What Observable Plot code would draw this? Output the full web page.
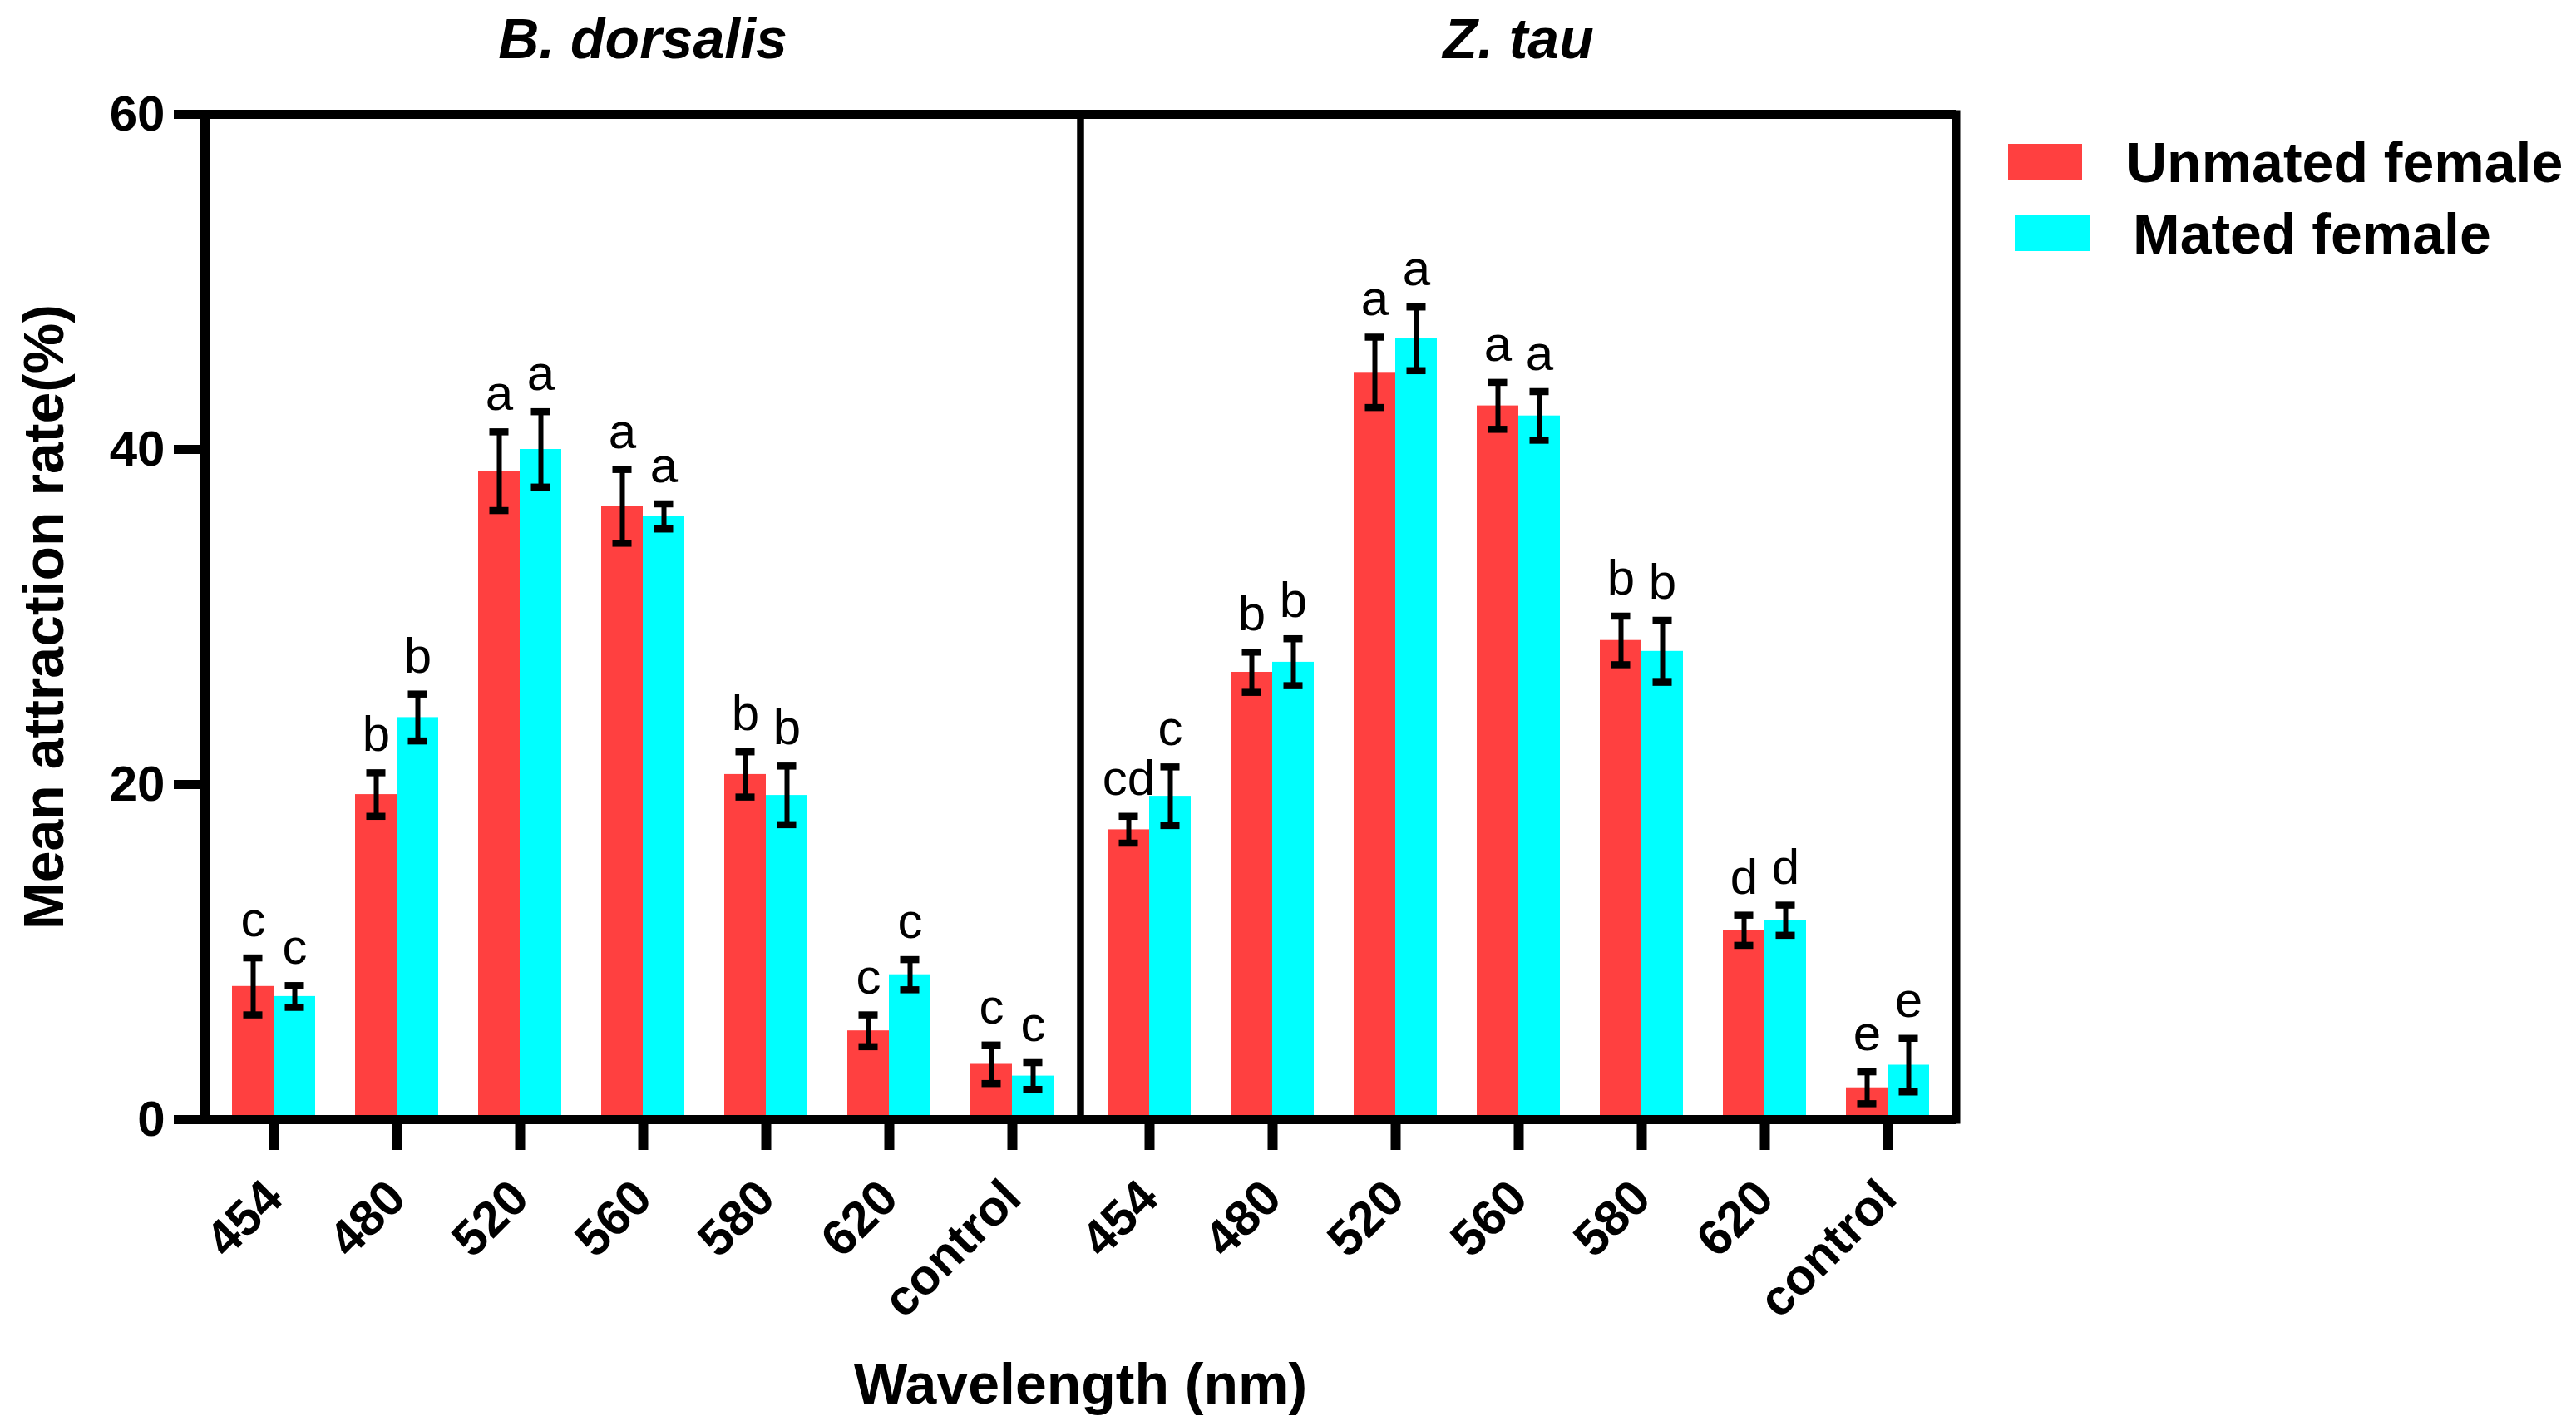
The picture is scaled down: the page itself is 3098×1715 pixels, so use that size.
<!DOCTYPE html>
<html>
<head>
<meta charset="utf-8">
<script src="https://cdn.jsdelivr.net/npm/d3@7"></script>
<script src="https://cdn.jsdelivr.net/npm/@observablehq/plot@0.6"></script>
<style>
  body { margin: 0; background: #fff; }
  #chart { position: relative; width: 3098px; height: 1715px; font-family: "Liberation Sans", Arial, sans-serif; color: #000; }
  .key { position: absolute; font-weight: bold; font-size: 68px; line-height: 68px; white-space: nowrap; }
  .swatch { position: absolute; }
</style>
</head>
<body>
<div id="chart"></div>
<script>
// data
const species = ["B. dorsalis", "Z. tau"];
const wavelengths = ["454", "480", "520", "560", "580", "620", "control"];
const groups = ["Unmated female", "Mated female"];
const colors = ["#ff4040", "#00ffff"];

const unmatedB    = [7.95, 19.4, 38.7, 36.6, 20.6, 5.3, 3.3];
const unmatedBErr = [1.7, 1.3, 2.35, 2.2, 1.35, 0.95, 1.15];
const matedB      = [7.35, 24.0, 40.0, 36.0, 19.35, 8.65, 2.6];
const matedBErr   = [0.65, 1.4, 2.25, 0.75, 1.75, 0.9, 0.8];

const unmatedZ    = [17.3, 26.7, 44.6, 42.6, 28.6, 11.3, 1.9];
const unmatedZErr = [0.8, 1.2, 2.1, 1.4, 1.45, 0.9, 0.95];
const matedZ      = [19.3, 27.3, 46.6, 42.0, 27.95, 11.9, 3.25];
const matedZErr   = [1.75, 1.4, 1.9, 1.45, 1.85, 0.9, 1.6];

const lettersUnmatedB = ["c", "b", "a", "a", "b", "c", "c"];
const lettersMatedB   = ["c", "b", "a", "a", "b", "c", "c"];
const lettersUnmatedZ = ["cd", "b", "a", "a", "b", "d", "e"];
const lettersMatedZ   = ["c", "b", "a", "a", "b", "d", "e"];

const yTicks = [0, 20, 40, 60];
const yTitle = "Mean attraction rate(%)";
const xTitle = "Wavelength (nm)";

function rows(sp, group, values, errs, letters) {
  return wavelengths.map((w, i) => ({
    species: sp, group, wavelength: w,
    value: values[i], err: errs[i], letter: letters[i]
  }));
}

const unmated = rows(species[0], groups[0], unmatedB, unmatedBErr, lettersUnmatedB)
  .concat(rows(species[1], groups[0], unmatedZ, unmatedZErr, lettersUnmatedZ));
const mated = rows(species[0], groups[1], matedB, matedBErr, lettersMatedB)
  .concat(rows(species[1], groups[1], matedZ, matedZErr, lettersMatedZ));

const half = 50; // each bar takes half of the band

function bars(data, side) {
  const left = side < 0;
  return Plot.barY(data, {
    fx: "species", x: "wavelength", y: "value", fill: "group",
    insetLeft: left ? 0 : half, insetRight: left ? half : 0
  });
}

function errorBars(data, side) {
  const left = side < 0;
  const cap = {insetLeft: left ? 13.5 : 63.5, insetRight: left ? 63.5 : 13.5, strokeWidth: 8.5};
  return [
    Plot.ruleX(data, {
      fx: "species", x: "wavelength",
      y1: d => d.value - d.err, y2: d => d.value + d.err,
      dx: side * 25, strokeWidth: 6
    }),
    Plot.tickY(data, {fx: "species", x: "wavelength", y: d => d.value - d.err, ...cap}),
    Plot.tickY(data, {fx: "species", x: "wavelength", y: d => d.value + d.err, ...cap}),
    Plot.text(data, {
      fx: "species", x: "wavelength", y: d => d.value + d.err, text: "letter",
      dx: side * 25, dy: -26, lineAnchor: "bottom", fontSize: 60
    })
  ];
}

const chart = Plot.plot({
  width: 3098,
  height: 1715,
  marginLeft: 246,
  marginRight: 746,
  marginTop: 137,
  marginBottom: 369,
  style: {fontFamily: '"Liberation Sans", Arial, sans-serif', background: "white", color: "black"},
  fx: {domain: species, padding: 0, label: null},
  x: {domain: wavelengths, paddingInner: 0.327, paddingOuter: 0.2066, label: null},
  y: {domain: [0, 60], label: null},
  color: {domain: groups, range: colors},
  marks: [
    bars(unmated, -1),
    bars(mated, 1),
    Plot.frame({strokeWidth: 8}),
    Plot.ruleY([0, 60], {strokeWidth: 11}),
    Plot.frame({facet: "super", anchor: "left", strokeWidth: 11}),
    Plot.frame({facet: "super", anchor: "right", strokeWidth: 10}),
    errorBars(unmated, -1),
    errorBars(mated, 1),
    Plot.axisFx({anchor: "top", tickSize: 0, tickPadding: 68, fontSize: 68, fontWeight: "bold", fontStyle: "italic", label: null}),
    Plot.axisY({ticks: yTicks, tickSize: 37, tickPadding: 11, strokeWidth: 11, fontSize: 60, fontWeight: "bold", label: null}),
    Plot.axisX({tickSize: 37, tickPadding: 47, strokeWidth: 12, tickRotate: -45, fontSize: 60, fontWeight: "bold", label: null}),
    Plot.text([{species: species[0], label: yTitle}], {
      fx: "species", text: "label", frameAnchor: "left", rotate: -90,
      textAnchor: "middle", lineAnchor: "bottom", dx: -171, fontSize: 68, fontWeight: "bold"
    }),
    Plot.text([{species: species[1], label: xTitle}], {
      fx: "species", text: "label", frameAnchor: "bottom-left",
      textAnchor: "middle", lineAnchor: "bottom", dy: 341, fontSize: 68, fontWeight: "bold"
    })
  ]
});

const root = document.getElementById("chart");
root.append(chart);

// legend on the right
const keys = [
  {label: groups[0], color: colors[0], sx: 2415, sy: 173, sw: 89, sh: 43, tx: 2557, ty: 161},
  {label: groups[1], color: colors[1], sx: 2423, sy: 258, sw: 90, sh: 44, tx: 2565, ty: 247}
];
keys.forEach(k => {
  const sw = document.createElement("div");
  sw.className = "swatch";
  Object.assign(sw.style, {left: k.sx + "px", top: k.sy + "px", width: k.sw + "px", height: k.sh + "px", background: k.color});
  const tx = document.createElement("div");
  tx.className = "key";
  Object.assign(tx.style, {left: k.tx + "px", top: k.ty + "px"});
  tx.textContent = k.label;
  root.append(sw, tx);
});
</script>
</body>
</html>
